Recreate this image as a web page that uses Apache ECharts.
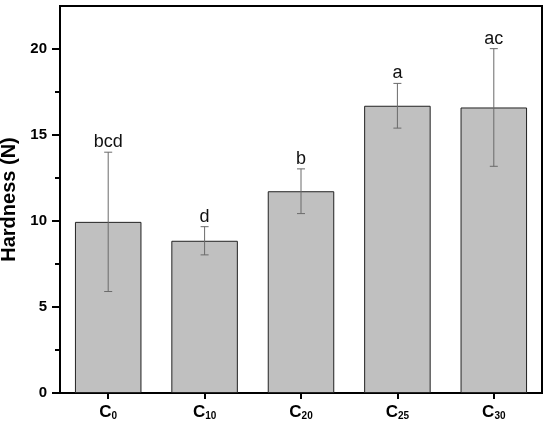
<!DOCTYPE html>
<html lang="en">

<head>
    <meta charset="UTF-8">
    <title>Hardness</title>
    <script type="text/javascript" src="https://cdn.jsdelivr.net/npm/echarts/dist/echarts.min.js"></script>
    <style>
        html, body {
            margin: 0;
            padding: 0;
            background: #fff;
        }

        #main {
            width: 550px;
            height: 423px;
        }
    </style>
</head>

<body>
    <div id="main"></div>
    <script>
        // data
        var categories = ['C0', 'C10', 'C20', 'C25', 'C30'];
        var hardness = [9.95, 8.85, 11.73, 16.70, 16.60];
        var hardnessSd = [4.05, 0.82, 1.30, 1.30, 3.42];
        var letters = ['bcd', 'd', 'b', 'a', 'ac'];
        var majorTicks = [0, 5, 10, 15, 20];
        var minorTicks = [2.5, 7.5, 12.5, 17.5];

        var font = 'Arial, "Liberation Sans", sans-serif';

        var errData = hardness.map(function (v, i) {
            return [i, v - hardnessSd[i], v + hardnessSd[i]];
        });

        var chart = echarts.init(document.getElementById('main'));

        var option = {
            animation: false,
            grid: {
                left: 60,
                right: 8,
                top: 6,
                bottom: 30,
                outerBoundsMode: 'none',
                containLabel: false,
                show: true,
                borderColor: '#000',
                borderWidth: 2,
                backgroundColor: 'transparent'
            },
            xAxis: {
                type: 'category',
                data: categories,
                axisLine: { lineStyle: { color: '#000', width: 2 } },
                axisTick: { show: true, alignWithLabel: true, length: 6, lineStyle: { color: '#000', width: 2 } },
                axisLabel: {
                    margin: 10,
                    formatter: function (val) {
                        return '{c|C}{s|' + val.slice(1) + '}';
                    },
                    rich: {
                        c: { fontSize: 17, fontWeight: 'bold', color: '#000', fontFamily: font, verticalAlign: 'bottom', lineHeight: 18 },
                        s: { fontSize: 10, fontWeight: 'bold', color: '#000', fontFamily: font, verticalAlign: 'bottom', lineHeight: 14 }
                    }
                }
            },
            yAxis: [{
                type: 'value',
                min: 0,
                max: 22.5,
                interval: 5,
                name: 'Hardness (N)',
                nameLocation: 'middle',
                nameGap: 40,
                nameTextStyle: { fontSize: 20, fontWeight: 'bold', color: '#000', fontFamily: font },
                splitLine: { show: false },
                axisLine: { show: true, lineStyle: { color: '#000', width: 2 } },
                axisTick: { show: true, length: 8, customValues: majorTicks, lineStyle: { color: '#000', width: 2 } },
                axisLabel: {
                    customValues: majorTicks,
                    margin: 13,
                    fontSize: 15,
                    fontWeight: 'bold',
                    color: '#000',
                    fontFamily: font
                }
            }, {
                type: 'value',
                position: 'left',
                min: 0,
                max: 22.5,
                interval: 2.5,
                splitLine: { show: false },
                axisLine: { show: false },
                axisLabel: { show: false },
                axisTick: { show: true, length: 5, customValues: minorTicks, lineStyle: { color: '#000', width: 2 } }
            }],
            series: [{
                type: 'bar',
                data: hardness,
                barWidth: '69%',
                itemStyle: {
                    color: '#c0c0c0',
                    borderColor: '#222',
                    borderWidth: 1
                }
            }, {
                type: 'custom',
                data: errData,
                z: 10,
                renderItem: function (params, api) {
                    var i = api.value(0);
                    var lo = api.coord([i, api.value(1)]);
                    var hi = api.coord([i, api.value(2)]);
                    var cap = 4;
                    var st = { stroke: '#6a6a6a', lineWidth: 1 };
                    return {
                        type: 'group',
                        children: [{
                            type: 'line',
                            shape: { x1: hi[0], y1: hi[1], x2: lo[0], y2: lo[1] },
                            style: st
                        }, {
                            type: 'line',
                            shape: { x1: hi[0] - cap, y1: hi[1], x2: hi[0] + cap, y2: hi[1] },
                            style: st
                        }, {
                            type: 'line',
                            shape: { x1: lo[0] - cap, y1: lo[1], x2: lo[0] + cap, y2: lo[1] },
                            style: st
                        }, {
                            type: 'text',
                            x: hi[0],
                            y: hi[1] - 1,
                            style: {
                                text: letters[params.dataIndex],
                                align: 'center',
                                verticalAlign: 'bottom',
                                fontSize: 18,
                                fontFamily: font,
                                fill: '#111'
                            }
                        }]
                    };
                }
            }]
        };

        chart.setOption(option);
    </script>
</body>

</html>
